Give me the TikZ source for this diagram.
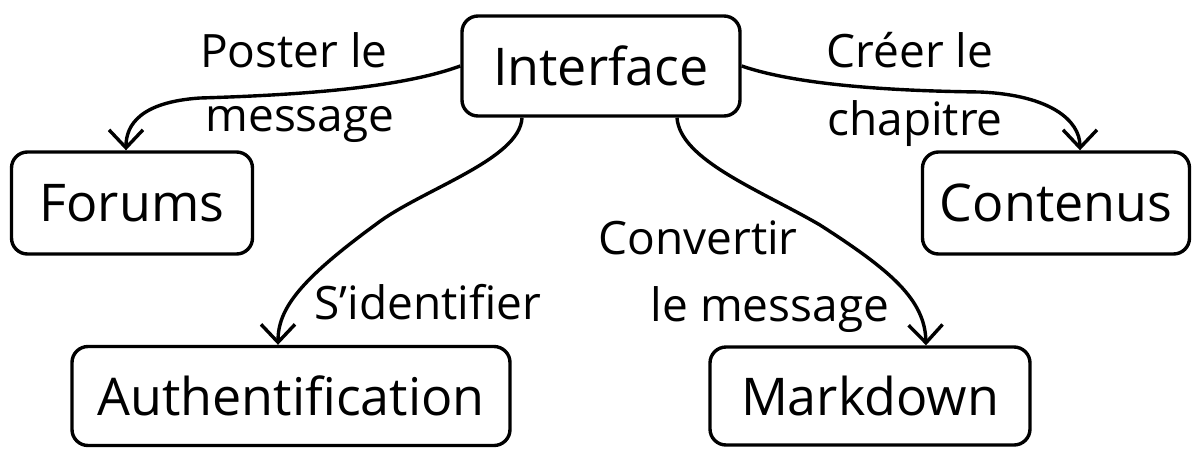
\documentclass[tikz,border=0pt]{standalone}
\usepackage{fontspec}
\setmainfont{Open Sans}
\usetikzlibrary{arrows.meta,calc}
\begin{document}
\begin{tikzpicture}[x=1pt,y=-1pt,
  box/.style={draw,line width=3.4pt,rounded corners=16pt,inner sep=0pt,
    font=\fontsize{52}{60}\selectfont,anchor=center},
  lbl/.style={inner sep=0pt,font=\fontsize{46}{52}\selectfont,anchor=center},
  link/.style={line width=3.4pt,-{Straight Barb[length=18pt,width=34pt,line width=3.4pt]}}]
\useasboundingbox (0,0) rectangle (1197,448);
% boxes
\node[box,minimum width=278pt,minimum height=100pt] (I) at (601,66) {Interface};
\node[box,minimum width=241pt,minimum height=102pt] (F) at (132,203) {Forums};
\node[box,minimum width=267pt,minimum height=102pt] (C) at (1056,203) {Contenus};
\node[box,minimum width=438pt,minimum height=99pt] (A) at (291,396) {Authentification};
\node[box,minimum width=320pt,minimum height=98pt] (M) at (870,396) {Markdown};
% edge labels
\node[lbl] (l1) at (294,50) {Poster le};
\node[lbl] (l2) at (300,124) {message};
\node[lbl] (l3) at (910,50) {Créer le};
\node[lbl] (l4) at (915,124) {chapitre};
\node[lbl] (l5) at (428,302) {S'identifier};
\node[lbl] (l6) at (698,238) {Convertir};
\node[lbl] (l7) at (770,310) {le message};
% connectors
\draw[link] (I.west) .. controls (400,88) and (300,95) .. (200,98)
  .. controls (140,102) and ($(F.north)+(-6,-25)$) .. ($(F.north)+(-6,0)$);
\draw[link] (I.east) .. controls (800,86) and (900,91) .. (980,92)
  .. controls (1050,95) and ($(C.north)+(24,-30)$) .. ($(C.north)+(24,0)$);
\draw[link] ($(I.south)+(-79,0)$) .. controls (520,160) and (420,190) .. (375,225)
  .. controls (300,280) and ($(A.north)+(-13,-36)$) .. ($(A.north)+(-13,0)$);
\draw[link] ($(I.south)+(76,0)$) .. controls (680,160) and (760,190) .. (820,225)
  .. controls (890,270) and ($(M.north)+(55,-46)$) .. ($(M.north)+(56,0)$);
\end{tikzpicture}
\end{document}
